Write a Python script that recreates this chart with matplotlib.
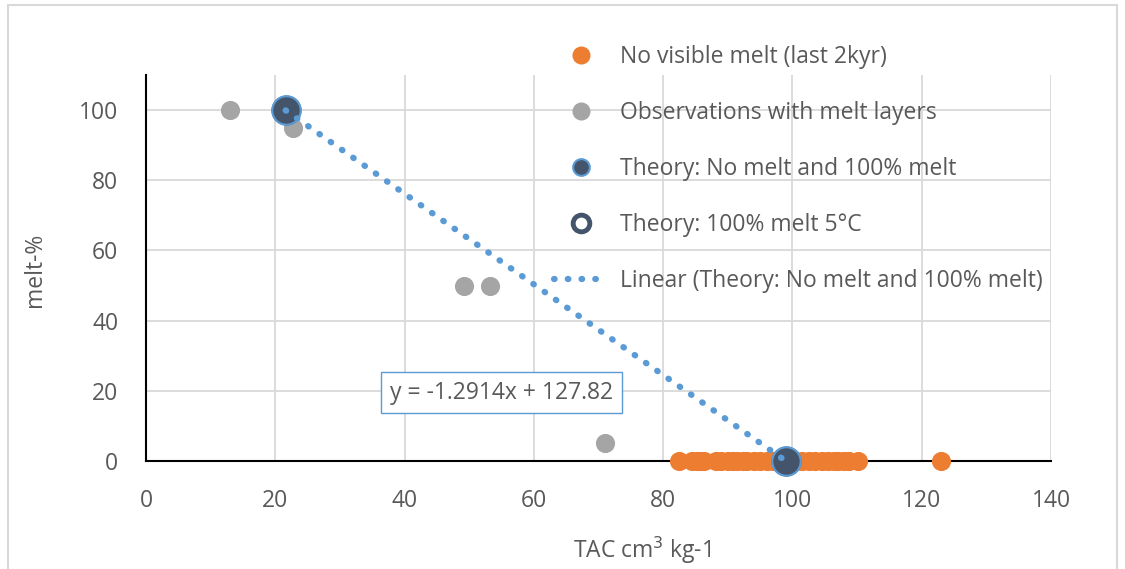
import matplotlib
matplotlib.use("Agg")
import numpy as np
from matplotlib import pyplot as plt
from matplotlib.patches import Rectangle
from matplotlib.lines import Line2D

plt.rcParams['font.family'] = ['Open Sans', 'DejaVu Sans']

# data
no_melt_x = [82.5, 84.5, 85.2, 85.8, 86.3, 88.2, 89.0, 90.0, 90.8, 91.5, 92.3,
             93.0, 94.0, 95.0, 96.0, 97.0, 98.0, 99.5, 100.5, 101.5, 102.5,
             103.5, 104.5, 105.5, 106.5, 107.0, 108.0, 108.7, 110.2, 123.0]
no_melt_y = [0] * len(no_melt_x)
obs_x = [13.0, 22.8, 49.2, 53.2, 71.0]
obs_y = [100, 95, 50, 50, 5]
theory_x = [21.6, 99.0]
theory_y = [100, 0]
theory5_x = [21.6, 99.0]
theory5_y = [100, 0]
slope, intercept = -1.2914, 127.82

ORANGE = '#ED7D31'
GREY = '#A5A5A5'
DARK = '#44546A'
BLUE = '#5B9BD5'
TXT = '#595959'
GRID = '#D9D9D9'
FS = 16.5

fig = plt.figure(figsize=(11.25, 5.69), dpi=100)
ax = fig.add_axes([146 / 1125, 1 - 461 / 569, 905 / 1125, 386 / 569])

# chart border
fig.patches.append(Rectangle((8 / 1125, -0.01), 1109 / 1125, 1 - 5 / 569 + 0.01,
                             transform=fig.transFigure, fill=False,
                             ec='#D9D9D9', lw=1.5))

ax.scatter(no_melt_x, no_melt_y, s=190, c=ORANGE, lw=0, zorder=3, clip_on=False)
ax.scatter(obs_x, obs_y, s=190, c=GREY, lw=0, zorder=3, clip_on=False)
ax.scatter(theory5_x, theory5_y, s=330, facecolors='white', edgecolors=DARK, lw=3.5,
           zorder=4, clip_on=False)
ax.scatter(theory_x, theory_y, s=420, c=DARK, edgecolors=BLUE, lw=1.5, zorder=5,
           clip_on=False)

# trendline
tx = np.array(theory_x)
ax.plot(tx, slope * tx + intercept, ls=(0, (0.1, 2.1)), lw=4.5, color=BLUE,
        dash_capstyle='round', zorder=6)

ax.text(55.0, 19.5, 'y = -1.2914x + 127.82', ha='center', va='center',
        fontsize=FS, color=TXT, zorder=7,
        bbox=dict(boxstyle='square,pad=0.38', fc='white', ec=BLUE, lw=1))

ax.set_xlim(0, 140)
ax.set_ylim(0, 110)
ax.set_xticks(range(0, 141, 20))
ax.set_yticks(range(0, 101, 20))
ax.grid(True, color=GRID, lw=1.3, zorder=0)
ax.set_axisbelow(True)
for s in ['top', 'right']:
    ax.spines[s].set_visible(False)
ax.spines['left'].set_color('black')
ax.spines['bottom'].set_color('black')
ax.spines['left'].set_linewidth(1.5)
ax.spines['bottom'].set_linewidth(1.5)
ax.tick_params(length=0, labelsize=FS, labelcolor=TXT)
ax.tick_params(axis='x', pad=20)
ax.tick_params(axis='y', pad=20)

fig.text(35 / 1125, 1 - 270 / 569, 'melt-%', rotation=90, ha='center', va='center',
         fontsize=FS, color=TXT)
fig.text(573 / 1125, 1 - 550 / 569, 'TAC cm$^3$ kg-1', ha='left', va='center',
         fontsize=FS, color=TXT)

handles = [
    Line2D([], [], ls='none', marker='o', ms=13, mfc=ORANGE, mec=ORANGE, mew=0),
    Line2D([], [], ls='none', marker='o', ms=13, mfc=GREY, mec=GREY, mew=0),
    Line2D([], [], ls='none', marker='o', ms=12, mfc=DARK, mec=BLUE, mew=1.5),
    Line2D([], [], ls='none', marker='o', ms=12, mfc='white', mec=DARK, mew=3.5),
    Line2D([], [], ls=(0, (0.1, 2.1)), lw=4.5, color=BLUE, dash_capstyle='round'),
]
labels = ['No visible melt (last 2kyr)', 'Observations with melt layers',
          'Theory: No melt and 100% melt', 'Theory: 100% melt 5°C',
          'Linear (Theory: No melt and 100% melt)']
fig.legend(handles, labels, loc='upper left',
           bbox_to_anchor=(533 / 1125, 1 - 24 / 569),
           frameon=False, fontsize=FS, labelcolor=TXT, labelspacing=1.4,
           handletextpad=0.5, handlelength=2.4)

fig.savefig('out.png', dpi=100)
